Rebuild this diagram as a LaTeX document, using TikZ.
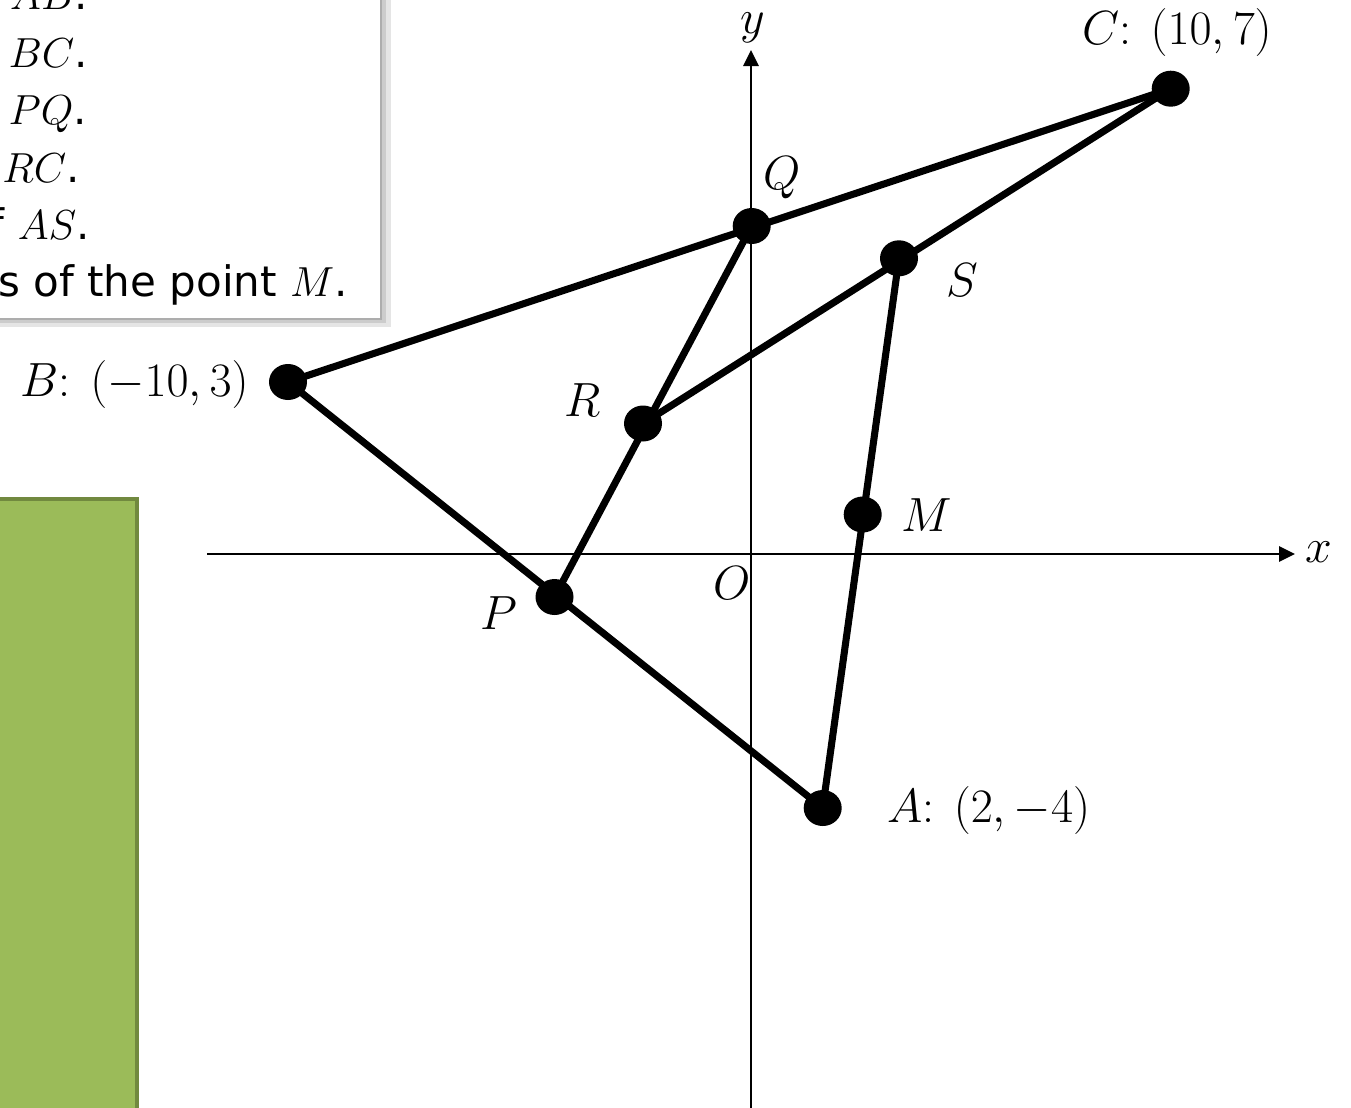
\RequirePackage{fix-cm}
\documentclass[tikz,border=0pt]{standalone}
\usepackage{fontspec}
\newfontfamily\boxfont{DejaVu Sans}
\usetikzlibrary{arrows.meta}
\definecolor{leafgreen}{HTML}{9BBB59}
\definecolor{leafedge}{HTML}{71893F}

\begin{document}
\begin{tikzpicture}[x=0.75pt, y=-0.75pt,
    seg/.style={line width=5.3pt, line cap=round, line join=round},
    axis/.style={line width=1.5pt, -{Triangle[length=12pt, width=11.5pt]}},
    lbl/.style={inner sep=0pt, font=\fontsize{36}{43}\selectfont},
    boxtext/.style={inner sep=0pt, anchor=base east, font=\boxfont\fontsize{31.5}{38}\selectfont}]
    % Page frame
    \useasboundingbox (0,0) rectangle (1351,1107);
    \fill[white] (0,0) rectangle (1351,1107);

    % Green panel (cut off at the left and bottom)
    \filldraw[fill=leafgreen, draw=leafedge, line width=3pt] (-20,499) rectangle (136.5,1130);

    % Text box with its shadow
    \fill[black!10] (-20,-20) rectangle (391,327);
    \fill[black!20] (-20,-20) rectangle (386,323);
    \fill[black!32] (-20,-20) rectangle (382,320);
    \fill[white] (-20,-20) rectangle (380,318);
    \node[boxtext] (lineAB) at (88,9)    {$AB$.};
    \node[boxtext] (lineBC) at (88,67)   {$BC$.};
    \node[boxtext] (linePQ) at (87,124)  {$PQ$.};
    \node[boxtext] (lineRC) at (80,182)  {$RC$.};
    \node[boxtext] (lineAS) at (90,239)  {f $AS$.};
    \node[boxtext] (lineM)  at (348,296) {s of the point $M$.};

    % Points
    \coordinate (O) at (751,554);
    \coordinate (A) at (822.7,808);
    \coordinate (B) at (288,382);
    \coordinate (C) at (1170.7,88.7);
    \coordinate (P) at (554.5,597);
    \coordinate (Q) at (751.7,226);
    \coordinate (R) at (643,423.5);
    \coordinate (S) at (899,258.3);
    \coordinate (M) at (862.7,514.5);
    \coordinate (xend) at (1295,554);
    \coordinate (xstart) at (207,554);
    \coordinate (yend) at (751,50);
    \coordinate (ystart) at (751,1110);

    % Axes
    \draw[axis] (xstart) -- (xend);
    \draw[axis] (ystart) -- (yend);
    \node[lbl] (xlab) at (1319,552) {$x$};
    \node[lbl] (ylab) at (753,28) {$y$};
    \node[lbl] (olab) at (732,583) {$O$};

    % Segments
    \draw[seg] (A) -- (B) -- (C);
    \draw[seg] (P) -- (Q);
    \draw[seg] (R) -- (C);
    \draw[seg] (A) -- (S);

    % Dots
    \foreach \p in {A,B,C,P,Q,R,S,M}
        \fill (\p) ellipse (19 and 18);

    % Labels
    \node[lbl] (Clab) at (1177,32) {$C$: $(10,7)$};
    \node[lbl, anchor=east] (Blab) at (249,384) {$B$: $(-10,3)$};
    \node[lbl, anchor=west] (Alab) at (887,810) {$A$: $(2,-4)$};
    \node[lbl] (Qlab) at (782,178) {$Q$};
    \node[lbl] (Slab) at (962,280) {$S$};
    \node[lbl] (Rlab) at (583,400) {$R$};
    \node[lbl] (Mlab) at (927,515) {$M$};
    \node[lbl] (Plab) at (499,613) {$P$};
\end{tikzpicture}
\end{document}
